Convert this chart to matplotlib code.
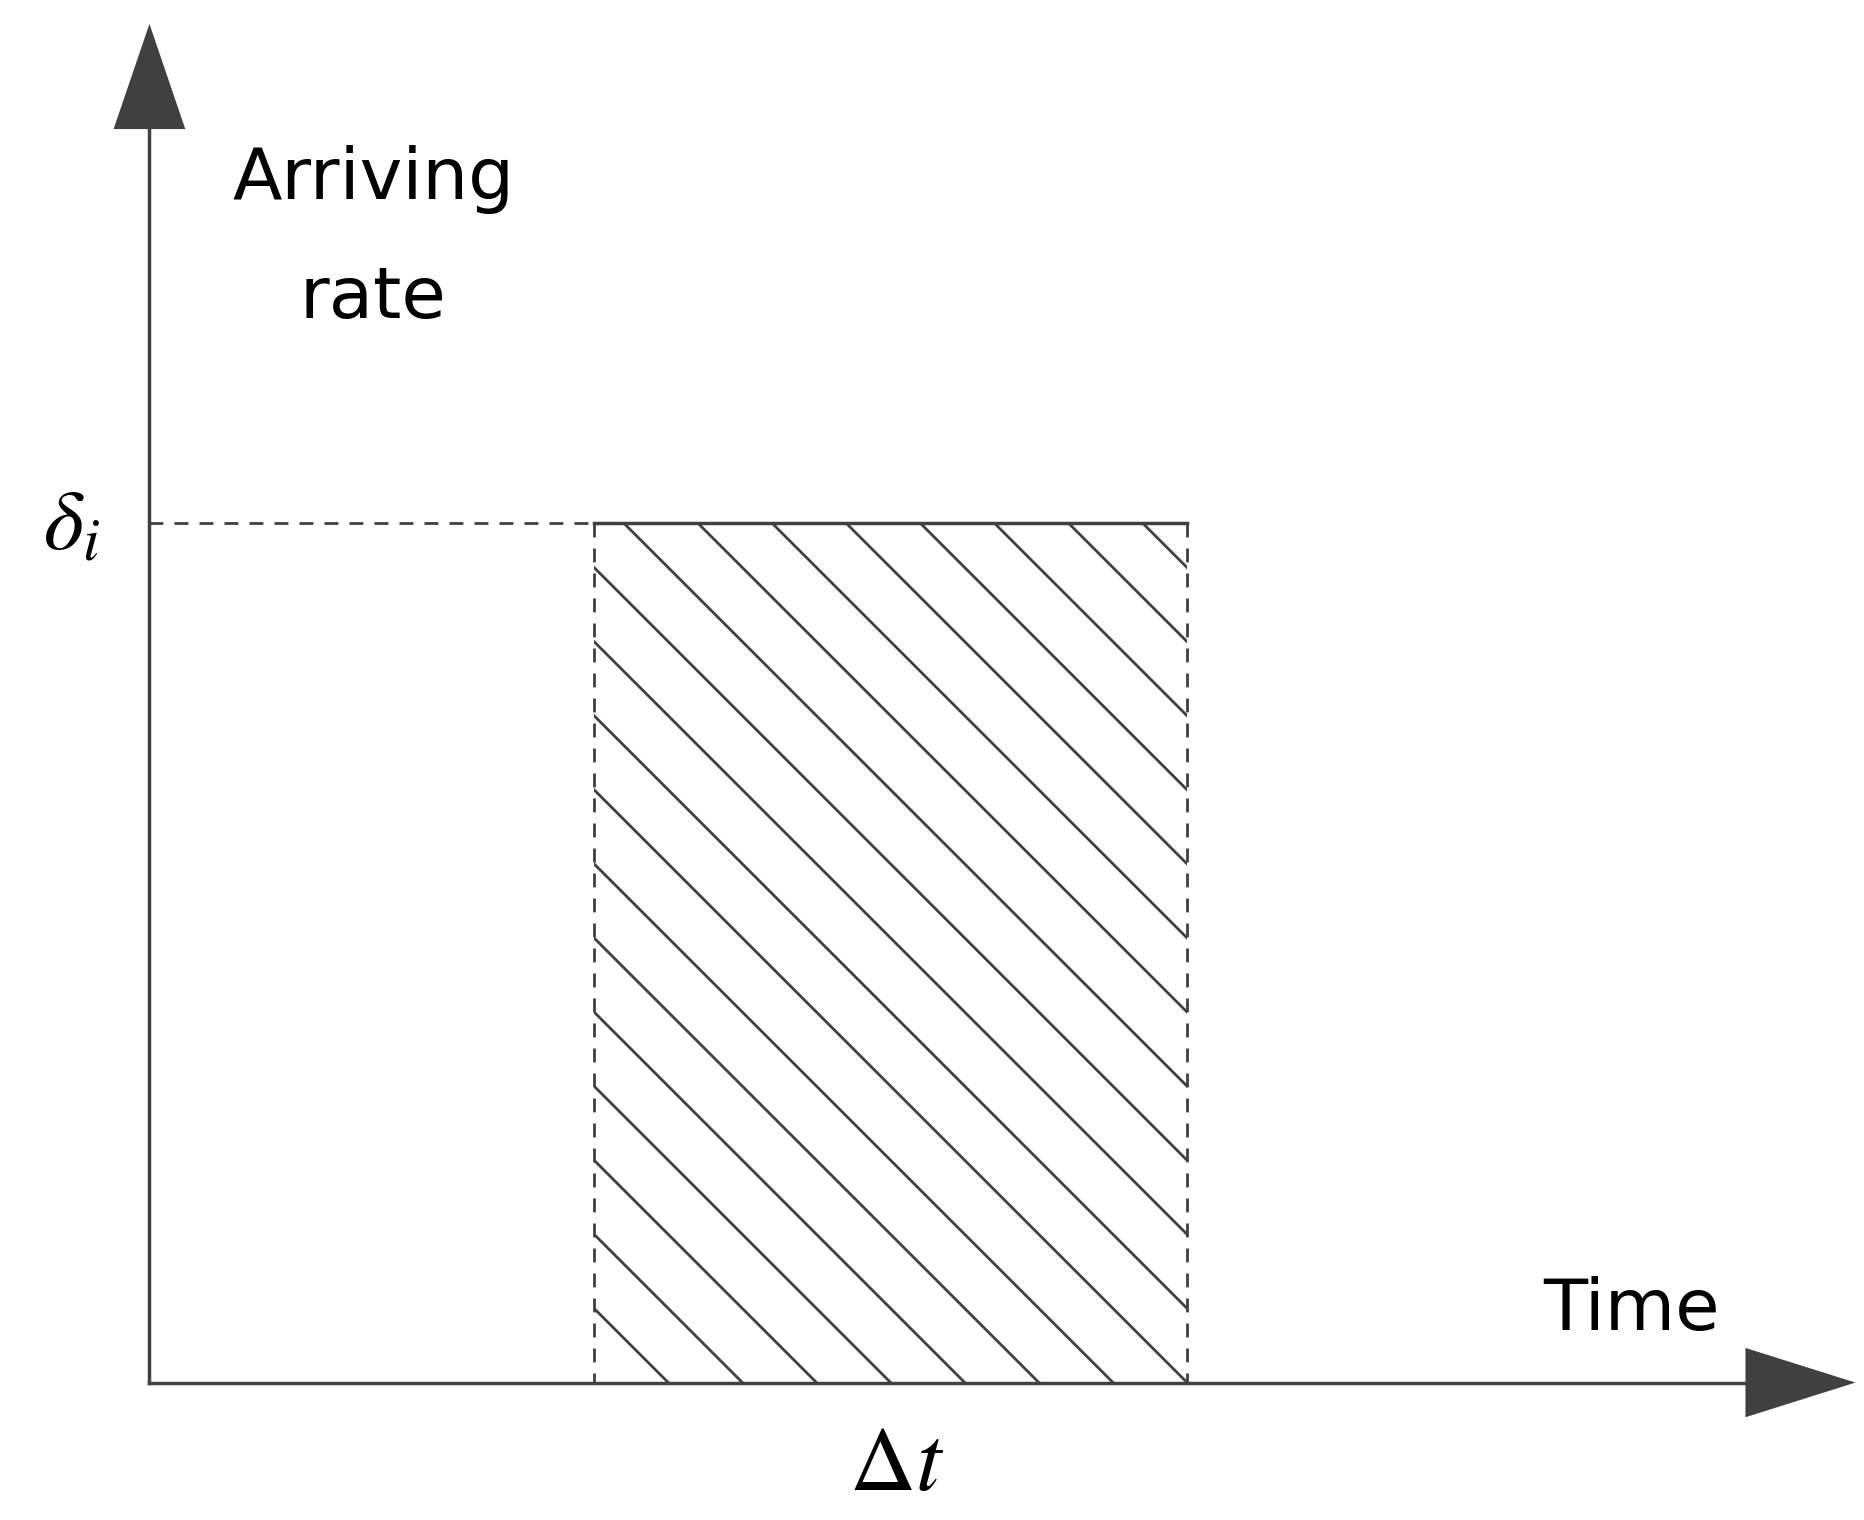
import numpy as np
import matplotlib.pyplot as plt
from matplotlib.patches import Rectangle

# diagram in reference pixel units (image ~1560 x 1272)
t_start, t_end = 497, 993
rate = 438
x0, y0 = 125, 1157
hatch_step = 62

col = '#404040'
fig = plt.figure(figsize=(18.65, 15.2), dpi=100)
ax = fig.add_axes([0, 0, 1, 1])
ax.set_xlim(0, 1560)
ax.set_ylim(1272, 0)
ax.axis('off')

# axes with arrows
ax.plot([x0, x0], [y0, 100], color=col, lw=2.5)
ax.plot([x0, 1470], [y0, y0], color=col, lw=2.5)
ax.fill([95, 155, 125], [108, 108, 20], color=col, lw=0)
ax.fill([1460, 1460, 1552], [1128, 1186, 1157], color=col, lw=0)

# rectangle
ax.plot([t_start, t_end], [rate, rate], color=col, lw=2.5)
ax.plot([x0, t_start], [rate, rate], color=col, lw=2, ls=(0, (5, 4)))
for xv in (t_start, t_end):
    ax.plot([xv, xv], [rate, y0], color=col, lw=2, ls=(0, (5, 4)))

# hatching
clip = Rectangle((t_start, rate), t_end - t_start, y0 - rate, transform=ax.transData)
for c in np.arange(t_start + hatch_step, t_end + (y0 - rate) + hatch_step, hatch_step):
    ln, = ax.plot([c, c - 1400], [y0, y0 - 1400], color=col, lw=2)
    ln.set_clip_path(clip)

ax.text(312, 150, 'Arriving', ha='center', va='center', fontsize=52, color='black')
ax.text(312, 250, 'rate', ha='center', va='center', fontsize=52, color='black')
ax.text(1365, 1097, 'Time', ha='center', va='center', fontsize=52, color='black')
ax.text(60, 440, r'$\delta_i$', ha='center', va='center', fontsize=62, family='serif',
        math_fontfamily='stix')
ax.text(750, 1225, r'$\Delta t$', ha='center', va='center', fontsize=66,
        math_fontfamily='stix')

fig.savefig('out.png', dpi=100, facecolor='white')
